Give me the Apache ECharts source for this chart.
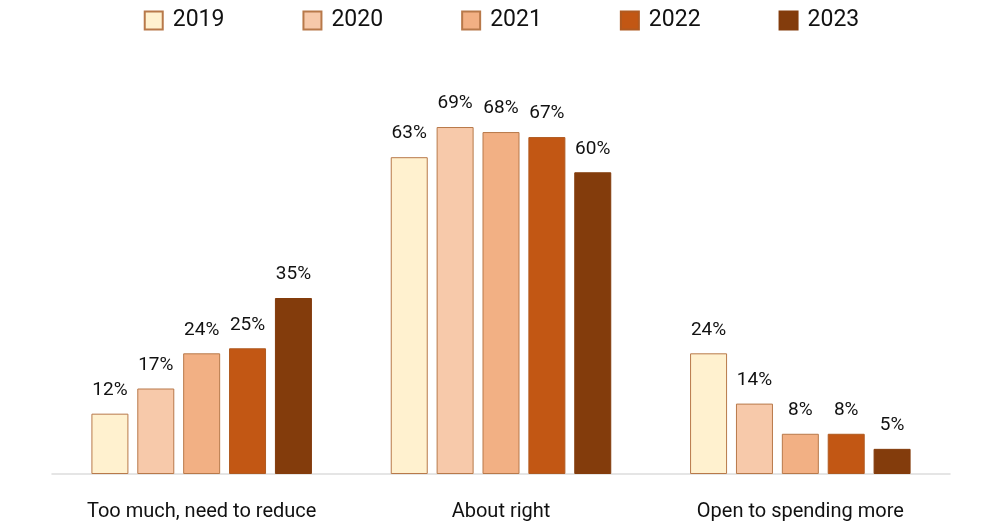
<!DOCTYPE html>
<html><head><meta charset="utf-8">
<script src="https://cdn.jsdelivr.net/npm/echarts@6/dist/echarts.min.js"></script>
<style>html,body{margin:0;padding:0;background:#fff}#c{width:1003px;height:524px}</style>
</head><body><div id="c"></div>
<script>
const categories = ["Too much, need to reduce", "About right", "Open to spending more"];
const years = ["2019", "2020", "2021", "2022", "2023"];
const v2019 = [12, 63, 24];
const v2020 = [17, 69, 14];
const v2021 = [24, 68, 8];
const v2022 = [25, 67, 8];
const v2023 = [35, 60, 5];
const values = [v2019, v2020, v2021, v2022, v2023];
const colors = ["#FFF1CF", "#F7C9AA", "#F2B084", "#C25714", "#833C0C"];
const borders = ["#B8794A", "#B8794A", "#B8794A", "#B05A20", "#833C0C"];
const font = "Roboto, 'Noto Sans', sans-serif";
const chart = echarts.init(document.getElementById('c'));
chart.setOption({
  animation: false,
  legend: {
    top: 4, left: 'center', icon: 'rect', itemWidth: 18, itemHeight: 18, itemGap: 78,
    textStyle: {fontSize: 23, color: '#111', fontFamily: font, padding: [0, 0, 0, 5]},
    data: years
  },
  grid: {left: 52, right: 53, top: 122, bottom: 50},
  xAxis: {
    type: 'category', data: categories,
    axisLine: {lineStyle: {color: '#dddddd', width: 1.5}},
    axisTick: {show: false},
    axisLabel: {fontSize: 20, color: '#111', margin: 28, fontFamily: font}
  },
  yAxis: {type: 'value', min: 0, max: 70, show: false, splitLine: {show: false}},
  series: years.map((y, i) => ({
    name: y, type: 'bar', data: values[i], barWidth: 37, barGap: '24%',
    itemStyle: {color: colors[i], borderColor: borders[i], borderWidth: 1},
    label: {show: true, position: 'top', distance: 14, formatter: '{c}%', fontSize: 19, color: '#111', fontFamily: font}
  }))
});
</script></body></html>
